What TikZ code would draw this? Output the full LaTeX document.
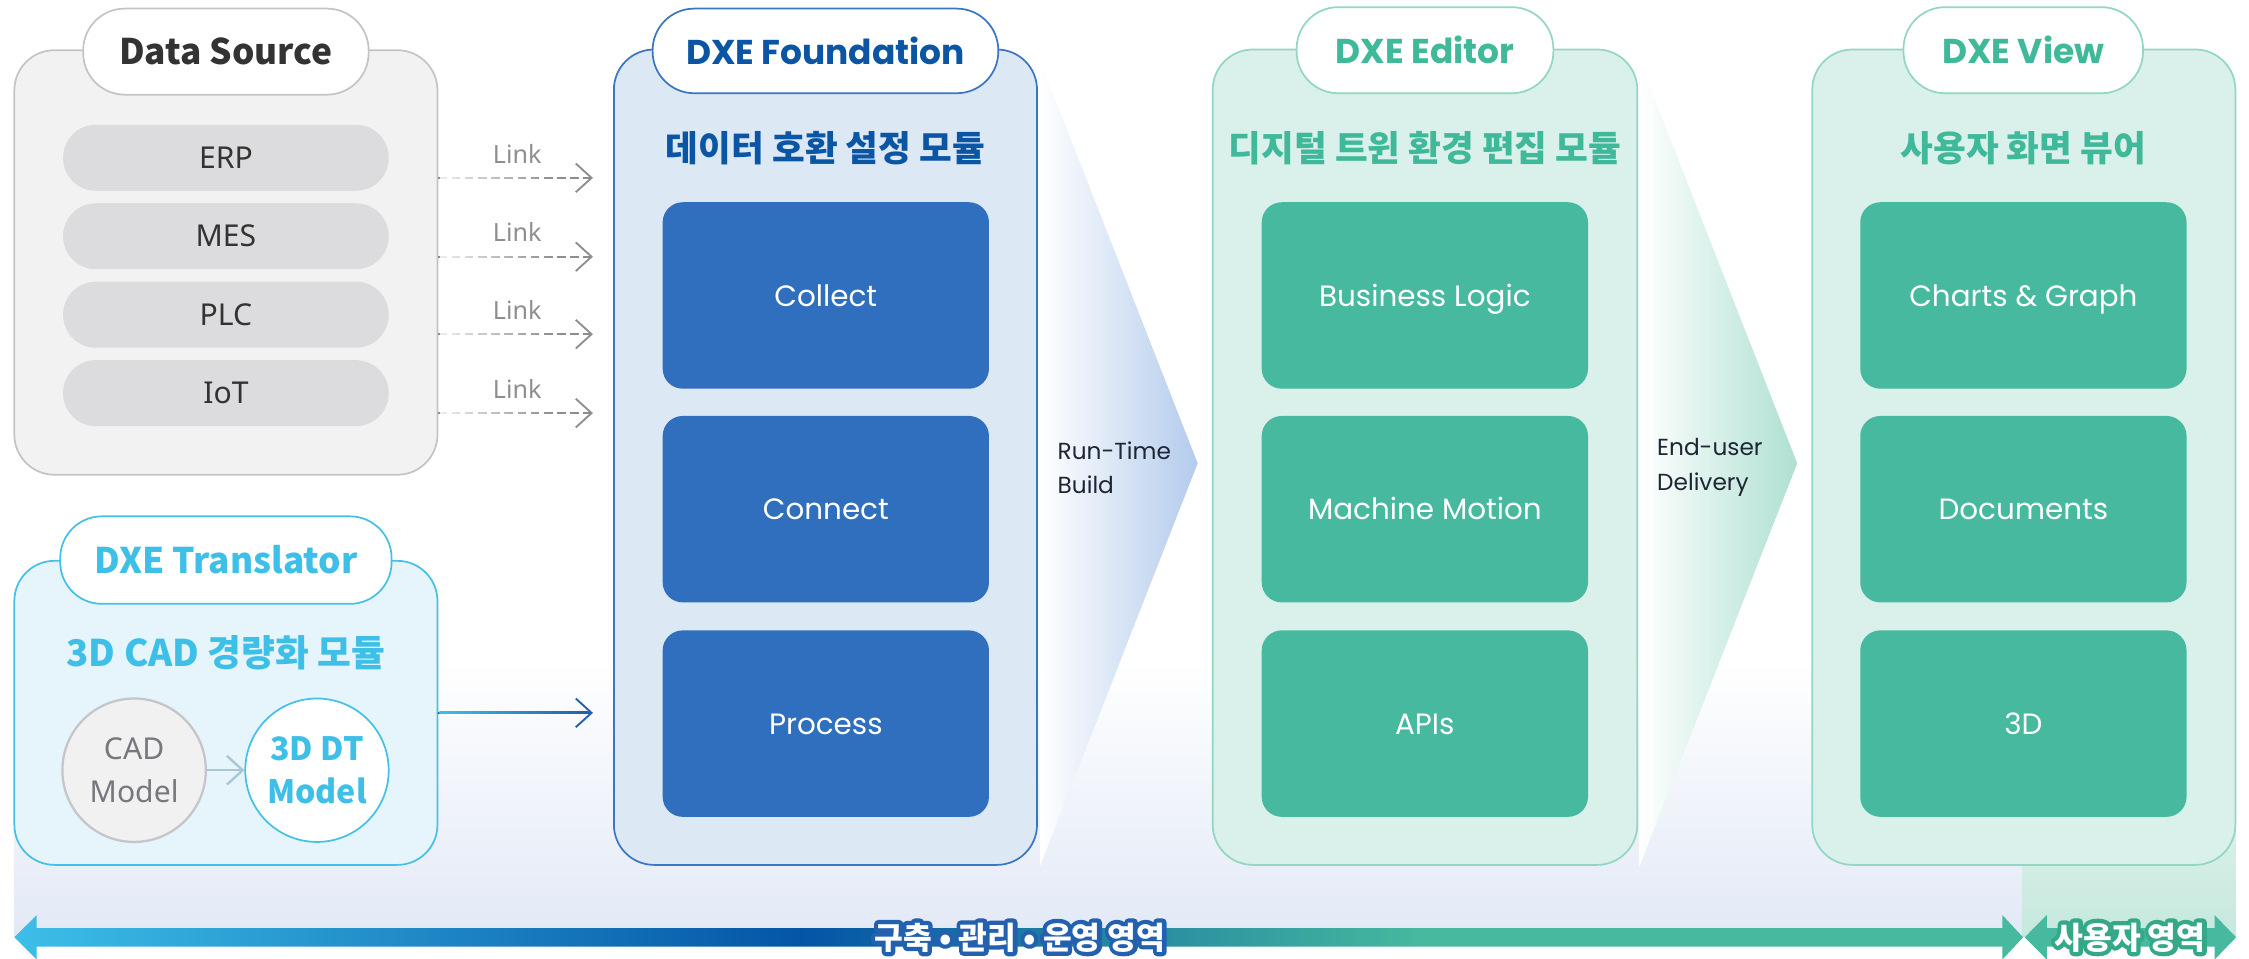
\documentclass[tikz,border=0pt]{standalone}
\usepackage{fontspec}
\setmainfont{Noto Sans CJK KR}
\newfontfamily\latf{Noto Sans}
\newfontfamily\geof{Poppins}
\usetikzlibrary{arrows.meta,fadings,calc}

\definecolor{cdsfill}{HTML}{F2F2F2}
\definecolor{cdsline}{HTML}{C4C4C4}
\definecolor{cdspill}{HTML}{DCDCDE}
\definecolor{cdstext}{HTML}{333333}
\definecolor{clink}{HTML}{8E8E8E}
\definecolor{ctcyan}{HTML}{3DBFE8}
\definecolor{ctrfill}{HTML}{E6F5FB}
\definecolor{ctrline}{HTML}{45C0E6}
\definecolor{ccadfill}{HTML}{F1F1F2}
\definecolor{ccadline}{HTML}{C6C6CA}
\definecolor{ccadtext}{HTML}{77777D}
\definecolor{carrgray}{HTML}{A7C6D6}
\definecolor{cfdfill}{HTML}{DDE8F5}
\definecolor{cfdline}{HTML}{3B76C2}
\definecolor{cfdtitle}{HTML}{0B55A5}
\definecolor{cfdbox}{HTML}{2F6FBD}
\definecolor{cfdarrow}{HTML}{1E5FB0}
\definecolor{cgnfill}{HTML}{DAF0EA}
\definecolor{cgnline}{HTML}{92D6C4}
\definecolor{cgntitle}{HTML}{40B89A}
\definecolor{cgnbox}{HTML}{46B99F}
\definecolor{crtblue}{HTML}{B3CBEC}
\definecolor{ceumint}{HTML}{AEE0D2}
\definecolor{cdark}{HTML}{1E2533}
\definecolor{cbglav}{HTML}{E2E9F6}
\definecolor{cmintbg}{HTML}{C5E8DD}
\definecolor{cmintbgtop}{HTML}{DDF2EB}
\definecolor{cbcyan}{HTML}{3CBFE8}
\definecolor{cbblue}{HTML}{0455A6}
\definecolor{cbmint}{HTML}{46B99E}
\definecolor{chblue}{HTML}{2360B0}
\definecolor{chmint}{HTML}{34A888}

\tikzfading[name=fadeoutright, left color=transparent!0, right color=transparent!100]
\pgfdeclarehorizontalshading{barshade}{100bp}{color(0bp)=(cbcyan); color(25bp)=(cbcyan); color(44.6bp)=(cbblue); color(60bp)=(cbmint); color(100bp)=(cbmint)}

% text with a coloured outline (halo) behind white glyphs
\newcommand\halotext[2]{\makebox[0pt][l]{\color{#1}\special{pdf:literal direct 1 j 2 Tr 3 w}#2\special{pdf:literal direct 0 Tr 0.4 w 0 j}}#2}

\begin{document}
\begin{tikzpicture}[x=0.5pt,y=-0.5pt,
  panel/.style={draw, line width=0.6pt, rounded corners=14pt, inner sep=0pt},
  titlepill/.style={draw, fill=white, line width=0.6pt, rounded corners=14.5pt, inner sep=0pt},
  srcpill/.style={fill=cdspill, rounded corners=11.4pt, inner sep=0pt, minimum width=113.5pt, minimum height=23pt,
     text=cdstext, font=\latf\fontsize{10.5pt}{12pt}\selectfont},
  modbox/.style={rounded corners=7pt, inner sep=0pt, minimum width=113.75pt, minimum height=65pt,
     text height=7.4pt, text depth=0pt,
     text=white, font=\geof\fontsize{10.25pt}{12pt}\selectfont},
  subtitle/.style={font=\bfseries\fontsize{12.4pt}{14pt}\selectfont},
  geotitle/.style={font=\geof\bfseries\fontsize{12pt}{14pt}\selectfont},
  linklabel/.style={text=clink, font=\latf\fontsize{8.75pt}{10pt}\selectfont},
  linkline/.style={draw=clink, line width=0.6pt, dash pattern=on 3pt off 1.6pt, shorten >=7pt,
     -{Straight Barb[length=5.5pt,width=10pt,line width=0.65pt]}},
  solidarrow/.style={line width=0.65pt, -{Straight Barb[length=5.5pt,width=10pt]}},
  flowtext/.style={anchor=west, align=left, inner sep=0pt, text=cdark, font=\geof\fontsize{8.1pt}{12pt}\selectfont},
  bartext/.style={font=\bfseries\fontsize{10.9pt}{12pt}\selectfont, inner sep=0pt, text=white}
]
\useasboundingbox (0,0) rectangle (1568,668);

% background tints
\shade[top color=white, bottom color=cbglav] (9.6,460) rectangle (1410,653);
\shade[top color=cmintbgtop, bottom color=cmintbg] (1410,560) rectangle (1558.6,653);

% flow chevrons
\shade[left color=white, right color=crtblue] (725,42) -- (835,323) -- (725,604) -- cycle;
\shade[left color=white, right color=ceumint] (1143,42) -- (1253,323) -- (1143,604) -- cycle;
\node[flowtext] (rtb) at (737,326) {Run-Time\\Build};
\node[flowtext] (eud) at (1155,326) {End-user\\Delivery};

% ---------- Data Source ----------
\node[panel, fill=cdsfill, draw=cdsline, minimum width=147.5pt, minimum height=148pt] (dsbox) at (157.5,183) {};
\node[titlepill, draw=cdsline, minimum width=99.5pt, minimum height=30pt, text=cdstext,
      font=\bfseries\fontsize{12.3pt}{15pt}\selectfont] (dstitle) at (157.5,36) {Data Source};
\node[srcpill] (erp) at (157.5,110) {ERP};
\node[srcpill] (mes) at (157.5,164.7) {MES};
\node[srcpill] (plc) at (157.5,219.4) {PLC};
\node[srcpill] (iot) at (157.5,274.1) {IoT};

% ---------- DXE Translator ----------
\node[panel, fill=ctrfill, draw=ctrline, minimum width=147.5pt, minimum height=106pt] (trbox) at (157.5,497) {};
\node[titlepill, draw=ctrline, minimum width=115.5pt, minimum height=30.5pt, text=ctcyan,
      font=\bfseries\fontsize{12.3pt}{15pt}\selectfont] (trtitle) at (157.5,390.5) {DXE Translator};
\node[text=ctcyan, font=\bfseries\fontsize{12.8pt}{14pt}\selectfont] (trsub) at (157.5,455) {3D CAD 경량화 모듈};
\node[circle, draw=ccadline, fill=ccadfill, line width=0.8pt, minimum size=50pt, inner sep=0pt, align=center,
      text=ccadtext, font=\latf\fontsize{10.5pt}{15pt}\selectfont] (cad) at (93.5,537) {CAD\\Model};
\node[circle, draw=ctrline, fill=white, line width=0.6pt, minimum size=50pt, inner sep=0pt, align=center,
      text=ctcyan, font=\bfseries\fontsize{11.2pt}{15pt}\selectfont] (dt) at (221,537) {3D DT\\Model};
\draw[solidarrow, draw=carrgray, line width=0.8pt] (cad) -- (dt);

% ---------- DXE Foundation ----------
\node[panel, fill=cfdfill, draw=cfdline, minimum width=147.5pt, minimum height=284.25pt] (fdbox) at (575.5,318.75) {};
\node[titlepill, geotitle, draw=cfdline, minimum width=120.5pt, minimum height=29.5pt, text=cfdtitle] (fdtitle) at (575.5,35.5) {DXE Foundation};
\node[subtitle, text=cfdtitle] (fdsub) at (575.5,103) {데이터 호환 설정 모듈};
\node[modbox, fill=cfdbox] (collect) at (575.75,206) {Collect};
\node[modbox, fill=cfdbox] (connect) at (575.75,355) {Connect};
\node[modbox, fill=cfdbox] (process) at (575.75,504.5) {Process};

% ---------- DXE Editor ----------
\node[panel, fill=cgnfill, draw=cgnline, minimum width=148pt, minimum height=284.25pt] (edbox) at (993.5,318.75) {};
\node[titlepill, geotitle, draw=cgnline, minimum width=89.5pt, minimum height=30pt, text=cgntitle] (edtitle) at (993.5,35) {DXE Editor};
\node[subtitle, text=cgntitle] (edsub) at (993.5,103) {디지털 트윈 환경 편집 모듈};
\node[modbox, fill=cgnbox] (logic) at (993.4,206) {Business Logic};
\node[modbox, fill=cgnbox] (motion) at (993.4,355) {Machine Motion};
\node[modbox, fill=cgnbox] (apis) at (993.4,504.5) {APIs};

% ---------- DXE View ----------
\node[panel, fill=cgnfill, draw=cgnline, minimum width=147.5pt, minimum height=284.25pt] (vwbox) at (1411,318.75) {};
\node[titlepill, geotitle, draw=cgnline, minimum width=83.5pt, minimum height=30pt, text=cgntitle] (vwtitle) at (1410.6,35) {DXE View};
\node[subtitle, text=cgntitle] (vwsub) at (1410.6,103) {사용자 화면 뷰어};
\node[modbox, fill=cgnbox] (charts) at (1410.7,206) {Charts \& Graph};
\node[modbox, fill=cgnbox] (docs) at (1410.7,355) {Documents};
\node[modbox, fill=cgnbox] (threed) at (1410.7,504.5) {3D};

% ---------- Link connectors ----------
\foreach \src/\yy [count=\i] in {erp/124, mes/179, plc/233, iot/288} {
  \coordinate (ly\i) at (0,\yy);
  \draw[linkline] (dsbox.east |- ly\i) -- (fdbox.west |- ly\i);
  \fill[white, fill opacity=0.85, path fading=fadeoutright] ($(dsbox.east |- ly\i)+(1.2,-3)$) rectangle ($(dsbox.east |- ly\i)+(80,3)$);
  \node[linklabel] (lk\i) at ($(dsbox.east |- \src)+(55,-3)$) {Link};
}

% Translator -> Foundation
\draw[solidarrow, draw=cfdarrow, shorten >=7pt] (trbox.east) -- (fdbox.west |- trbox.east);
\shade[left color=ctcyan, right color=cfdarrow] ($(trbox.east)+(0.8,-0.65)$) rectangle ($(fdbox.west |- trbox.east)+(-17,0.65)$);

% ---------- bottom bars ----------
\shade[shading=barshade] (10,653.5) -- (25.6,638) -- (25.6,647) -- (1396,647) -- (1396,638) -- (1410.5,653.5)
   -- (1396,669) -- (1396,660) -- (25.6,660) -- (25.6,669) -- cycle;
\fill[cbmint] (1411.6,653.5) -- (1427,638) -- (1427,647) -- (1544,647) -- (1544,638) -- (1559,653.5)
   -- (1544,669) -- (1544,660) -- (1427,660) -- (1427,669) -- cycle;

\node[bartext] (bar1) at (711,653.5) {\halotext{chblue}{구축 • 관리 • 운영 영역}};
\node[bartext] (bar2) at (1485,653.5) {\halotext{chmint}{사용자 영역}};
\end{tikzpicture}
\end{document}
